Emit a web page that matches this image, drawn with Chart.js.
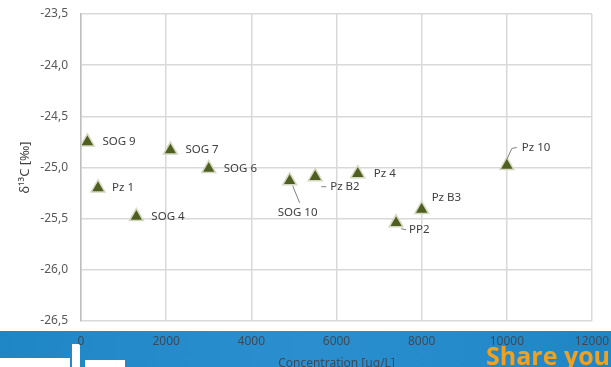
<!DOCTYPE html>
<html>
<head>
<meta charset="utf-8">
<script src="https://cdn.jsdelivr.net/npm/chart.js@4.4.1/dist/chart.umd.min.js"></script>
<style>
    html, body { margin: 0; padding: 0; background: #fff; }
    #wrap { width: 611px; height: 367px; position: relative; }
</style>
</head>
<body>
<div id="wrap"><canvas id="iso_chart" width="611" height="367"></canvas></div>
<script>
// sample data
var sampleNames = ["SOG 9", "Pz 1", "SOG 4", "SOG 7", "SOG 6", "SOG 10", "Pz B2", "Pz 4", "PP2", "Pz B3", "Pz 10"];
var concValues = [150, 400, 1300, 2100, 3000, 4900, 5500, 6500, 7400, 8000, 10000];
var d13cValues = [-24.75, -25.2, -25.48, -24.83, -25.01, -25.13, -25.09, -25.06, -25.54, -25.41, -24.98];
var xTicks = [0, 2000, 4000, 6000, 8000, 10000, 12000];
var yTicks = [-26.5, -26.0, -25.5, -25.0, -24.5, -24.0, -23.5];

// label placement (offset from the point, and optional leader line)
var labelPos = [
    {dx: 15, dy: 0},
    {dx: 14, dy: 0},
    {dx: 15, dy: 0},
    {dx: 15, dy: 0},
    {dx: 15, dy: 0},
    {dx: -12, dy: 32, leader: [[3, 5], [10, 22]]},
    {dx: 15, dy: 10, leader: [[6, 10], [11, 10]]},
    {dx: 16, dy: 0},
    {dx: 13, dy: 7, leader: [[5, 6], [10, 7]]},
    {dx: 10, dy: -12},
    {dx: 15, dy: -18, leader: [[0, -6], [5, -17], [10, -18]]}
];

var points = concValues.map(function (v, i) {
    return {x: v, y: d13cValues[i]};
});

// blue strip at the bottom
var bannerPlugin = {
    id: 'banner',
    beforeDraw: function (chart) {
        var ctx = chart.ctx;
        ctx.save();
        var g = ctx.createLinearGradient(0, 331, 611, 367);
        g.addColorStop(0, "#1f86c6");
        g.addColorStop(0.5, "#2b8fcf");
        g.addColorStop(1, "#1f86c6");
        ctx.fillStyle = g;
        ctx.fillRect(0, 331, 611, 36);
        ctx.fillStyle = "#ffffff";
        ctx.fillRect(0, 358, 70, 9);
        ctx.fillRect(72, 344, 8, 23);
        ctx.fillRect(85, 360, 40, 7);
        ctx.fillStyle = "#f2a11f";
        ctx.font = "bold 25px 'Open Sans', sans-serif";
        ctx.textBaseline = "alphabetic";
        ctx.fillText("Share you", 486, 365);
        ctx.restore();
    }
};

var labelPlugin = {
    id: 'pointLabels',
    afterDatasetsDraw: function (chart) {
        var ctx = chart.ctx;
        var meta = chart.getDatasetMeta(0);
        ctx.save();
        ctx.font = "11.5px 'Noto Sans', sans-serif";
        ctx.fillStyle = "#404040";
        ctx.textBaseline = "middle";
        ctx.strokeStyle = "#808080";
        ctx.lineWidth = 1;
        meta.data.forEach(function (el, i) {
            var p = labelPos[i];
            if (p.leader) {
                ctx.beginPath();
                p.leader.forEach(function (q, k) {
                    if (k == 0) ctx.moveTo(el.x + q[0], el.y + q[1]);
                    else ctx.lineTo(el.x + q[0], el.y + q[1]);
                });
                ctx.stroke();
            }
            ctx.fillText(sampleNames[i], el.x + p.dx, el.y + p.dy);
        });
        ctx.restore();
    }
};

new Chart(document.getElementById("iso_chart").getContext("2d"), {
    type: 'scatter',
    data: {
        datasets: [{
            data: points,
            pointStyle: 'triangle',
            pointRadius: 8,
            pointHoverRadius: 8,
            backgroundColor: "#4f5f22",
            borderColor: "#d4d8c0",
            borderWidth: 1.5
        }]
    },
    plugins: [bannerPlugin, labelPlugin],
    options: {
        responsive: false,
        animation: false,
        layout: {padding: {top: 14, right: 19, left: 0, bottom: 0}},
        plugins: {
            legend: {display: false},
            tooltip: {enabled: false}
        },
        scales: {
            x: {
                type: 'linear',
                min: 0,
                max: 12000,
                afterBuildTicks: function (axis) {
                    axis.ticks = xTicks.map(function (v) { return {value: v}; });
                },
                afterFit: function (axis) {
                    axis.height = 46;
                    axis.paddingLeft = 0;
                    axis.paddingRight = 0;
                },
                ticks: {
                    color: "#3c4a58",
                    font: {family: "'Noto Sans', sans-serif", size: 12},
                    padding: 13,
                    maxRotation: 0,
                    callback: function (v) { return v; }
                },
                grid: {color: "#d9d9d9", lineWidth: 1.5, drawTicks: false},
                border: {display: false},
                title: {
                    display: true,
                    text: "Concentration [µg/L]",
                    color: "#3c4a58",
                    font: {family: "'Noto Sans', sans-serif", size: 12},
                    padding: {top: 0, bottom: -4}
                }
            },
            y: {
                min: -26.5,
                max: -23.5,
                afterBuildTicks: function (axis) {
                    axis.ticks = yTicks.map(function (v) { return {value: v}; });
                },
                afterFit: function (axis) {
                    axis.width = 81;
                    axis.paddingTop = 0;
                    axis.paddingBottom = 0;
                },
                ticks: {
                    color: "#595959",
                    font: {family: "'Noto Sans', sans-serif", size: 12},
                    padding: 13,
                    callback: function (v) { return v.toFixed(1).replace('.', ','); }
                },
                grid: {color: "#d9d9d9", lineWidth: 1.5, drawTicks: false},
                border: {display: true, color: "#bfbfbf", width: 1.5},
                title: {
                    display: true,
                    text: "δ¹³C [‰]",
                    color: "#404040",
                    font: {family: "'Noto Sans', sans-serif", size: 13},
                    padding: {top: 17, bottom: 0}
                }
            }
        }
    }
});
</script>
</body>
</html>
